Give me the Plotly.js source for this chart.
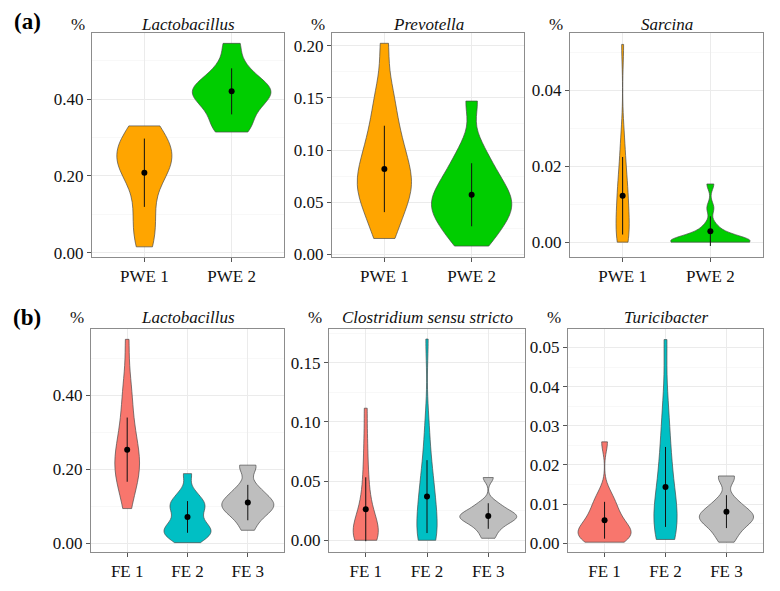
<!DOCTYPE html>
<html>
<head>
<meta charset="utf-8">
<script src="https://cdn.plot.ly/plotly-3.0.1.min.js"></script>
<style>
html,body{margin:0;padding:0;background:#fff}
#chart{width:780px;height:591px}
</style>
</head>
<body>
<div id="chart"></div>
<script>
// ---------- DATA (values read/estimated from the reference) ----------
const pweCats = ['PWE 1', 'PWE 2'];
const feCats = ['FE 1', 'FE 2', 'FE 3'];

const titles = ['Lactobacillus', 'Prevotella', 'Sarcina', 'Lactobacillus', 'Clostridium sensu stricto', 'Turicibacter'];

// (a) samples
const lactoPWE1 = [0.015, 0.05, 0.09, 0.13, 0.19, 0.21, 0.22, 0.235, 0.25, 0.26, 0.275, 0.29, 0.31, 0.33];
const lactoPWE2 = [0.314, 0.33, 0.36, 0.38, 0.40, 0.41, 0.42, 0.43, 0.44, 0.46, 0.49, 0.545];
const prevoPWE1 = [0.015, 0.025, 0.038, 0.048, 0.055, 0.06, 0.065, 0.07, 0.076, 0.083, 0.09, 0.098, 0.107, 0.117, 0.13, 0.145, 0.162, 0.2025];
const prevoPWE2 = [0.0077, 0.016, 0.024, 0.031, 0.037, 0.042, 0.046, 0.05, 0.055, 0.06, 0.066, 0.073, 0.081, 0.09, 0.105, 0.147];
const sarcPWE1 = [0, 0, 0.001, 0.002, 0.004, 0.006, 0.008, 0.01, 0.012, 0.014, 0.016, 0.019, 0.023, 0.028, 0.052];
const sarcPWE2 = [0, 0, 0, 0, 0, 0, 0, 0, 0, 0.0005, 0.001, 0.002, 0.003, 0.0045, 0.009, 0.0153];

// (b) samples
const lactoFE1 = [0.0933, 0.14, 0.165, 0.18, 0.195, 0.205, 0.22, 0.235, 0.25, 0.27, 0.295, 0.32, 0.36, 0.40, 0.44, 0.552];
const lactoFE2 = [0.001, 0.012, 0.02, 0.027, 0.033, 0.038, 0.045, 0.055, 0.068, 0.085, 0.095, 0.103, 0.11, 0.122, 0.14, 0.188];
const lactoFE3 = [0.0345, 0.06, 0.075, 0.085, 0.093, 0.1, 0.105, 0.11, 0.118, 0.128, 0.14, 0.155, 0.205, 0.211];
const clostFE1 = [0, 0, 0.001, 0.002, 0.004, 0.006, 0.008, 0.011, 0.014, 0.018, 0.023, 0.03, 0.038, 0.05, 0.065, 0.085, 0.1116];
const clostFE2 = [0, 0, 0.001, 0.002, 0.006, 0.01, 0.015, 0.024, 0.03, 0.035, 0.04, 0.047, 0.055, 0.065, 0.08, 0.1, 0.17];
const clostFE3 = [0.0017, 0.008, 0.012, 0.015, 0.017, 0.019, 0.02, 0.021, 0.023, 0.025, 0.028, 0.032, 0.053];
const turiFE1 = [0.0003, 0.0008, 0.0012, 0.0016, 0.002, 0.0025, 0.003, 0.0035, 0.0042, 0.005, 0.006, 0.007, 0.0085, 0.0095, 0.011, 0.013, 0.0259];
const turiFE2 = [0.001, 0.002, 0.003, 0.004, 0.005, 0.006, 0.008, 0.01, 0.012, 0.015, 0.018, 0.021, 0.025, 0.03, 0.036, 0.052];
const turiFE3 = [0.0003, 0.002, 0.0035, 0.0045, 0.0055, 0.006, 0.0065, 0.007, 0.0075, 0.008, 0.009, 0.01, 0.0115, 0.0165, 0.0172];

const lactoPWEMean = [0.208, 0.420],  lactoPWESd = [0.089, 0.060];
const prevoPWEMean = [0.0818, 0.057], prevoPWESd = [0.0415, 0.0303];
const sarcPWEMean  = [0.0122, 0.0029], sarcPWESd = [0.0102, 0.0039];
const lactoFEMean  = [0.253, 0.0706, 0.1096], lactoFESd = [0.087, 0.043, 0.048];
const clostFEMean  = [0.0262, 0.0369, 0.0205], clostFESd = [0.027, 0.0308, 0.0108];
const turiFEMean   = [0.0059, 0.0144, 0.0081], turiFESd = [0.0047, 0.0102, 0.0042];

// ---------- STYLE / LAYOUT ----------
const W = 780, H = 591;
const FONT = 'Liberation Serif';
const TXT = '#111';
const pweColors = ['#FFA500', '#00CD00'];
const feColors = ['#F8766D', '#00BFC4', '#BEBEBE'];

// bws: null -> R's bw.nrd0 of the samples; number -> fixed kernel bandwidth
const panels = [
  {cats: pweCats, groups: [lactoPWE1, lactoPWE2], mean: lactoPWEMean, sd: lactoPWESd, colors: pweColors,
   box: [92, 284, 33, 257], yr: [-0.0115, 0.572], dt: 0.2, widths: [0.63, 0.90], bws: [null, null]},
  {cats: pweCats, groups: [prevoPWE1, prevoPWE2], mean: prevoPWEMean, sd: prevoPWESd, colors: pweColors,
   box: [332, 524, 33, 257], yr: [-0.0028, 0.2124], dt: 0.05, widths: [0.62, 0.92], bws: [0.02, null]},
  {cats: pweCats, groups: [sarcPWE1, sarcPWE2], mean: sarcPWEMean, sd: sarcPWESd, colors: pweColors,
   box: [570, 763, 33, 257], yr: [-0.0039, 0.055], dt: 0.02, widths: [0.15, 0.90], bws: [0.005, 0.0015]},
  {cats: feCats, groups: [lactoFE1, lactoFE2, lactoFE3], mean: lactoFEMean, sd: lactoFESd, colors: feColors,
   box: [91, 284, 329, 552], yr: [-0.0244, 0.580], dt: 0.2, widths: [0.41, 0.78, 0.86], bws: [null, 0.019, null]},
  {cats: feCats, groups: [clostFE1, clostFE2, clostFE3], mean: clostFEMean, sd: clostFESd, colors: feColors,
   box: [329, 525, 329, 552], yr: [-0.0099, 0.1785], dt: 0.05, widths: [0.41, 0.33, 0.93], bws: [null, null, null]},
  {cats: feCats, groups: [turiFE1, turiFE2, turiFE3], mean: turiFEMean, sd: turiFESd, colors: feColors,
   box: [568, 763, 329, 552], yr: [-0.0022, 0.0547], dt: 0.01, widths: [0.87, 0.38, 0.89], bws: [null, null, null]}
];

// R's bw.nrd0 (what ggplot's geom_violin uses)
function nrd0(a) {
  const s = [...a].sort((p, q) => p - q), n = s.length;
  const m = s.reduce((p, q) => p + q, 0) / n;
  const sd = Math.sqrt(s.reduce((p, q) => p + (q - m) * (q - m), 0) / (n - 1));
  const qt = p => { const h = (n - 1) * p, lo = Math.floor(h); return lo + 1 < n ? s[lo] + (h - lo) * (s[lo + 1] - s[lo]) : s[lo]; };
  let lo = Math.min(sd, (qt(0.75) - qt(0.25)) / 1.34);
  if (!(lo > 0)) lo = sd || 1;
  return 0.9 * lo * Math.pow(n, -0.2);
}

const traces = [];
const layout = {
  width: W, height: H, margin: {l: 0, r: 0, t: 0, b: 0},
  paper_bgcolor: '#fff', plot_bgcolor: '#fff', showlegend: false,
  font: {family: FONT, size: 17, color: TXT},
  violinmode: 'overlay',
  annotations: []
};

panels.forEach((p, i) => {
  const k = i + 1;
  const xa = 'x' + (k === 1 ? '' : k), ya = 'y' + (k === 1 ? '' : k);
  const xk = 'xaxis' + (k === 1 ? '' : k), yk = 'yaxis' + (k === 1 ? '' : k);
  const [x0, x1, y0, y1] = p.box;
  p.groups.forEach((g, j) => {
    traces.push({
      type: 'violin', xaxis: xa, yaxis: ya,
      x: g.map(() => p.cats[j]), y: g,
      spanmode: 'hard', scalemode: 'width', width: p.widths[j],
      bandwidth: p.bws[j] || nrd0(g),
      fillcolor: p.colors[j], line: {color: 'rgba(70,70,70,0.85)', width: 0.8},
      points: false, box: {visible: false}, meanline: {visible: false},
      opacity: 1, hoverinfo: 'skip'
    });
  });
  traces.push({
    type: 'scatter', mode: 'markers', xaxis: xa, yaxis: ya,
    x: p.cats, y: p.mean,
    marker: {color: '#000', size: 6},
    error_y: {type: 'data', array: p.sd, visible: true, thickness: 1, width: 0, color: '#111'},
    hoverinfo: 'skip', cliponaxis: false
  });
  layout[xk] = {
    domain: [x0 / W, x1 / W], anchor: ya, type: 'category',
    range: [-0.6, p.cats.length - 0.4],
    showgrid: true, gridcolor: '#EBEBEB', gridwidth: 1,
    showline: true, mirror: true, linecolor: '#8c8c8c', linewidth: 1,
    ticks: 'outside', ticklen: 4, tickcolor: '#555', tickwidth: 1,
    tickfont: {family: FONT, size: 17, color: TXT},
    zeroline: false, fixedrange: true
  };
  layout[yk] = {
    domain: [1 - y1 / H, 1 - y0 / H], anchor: xa,
    range: p.yr, tick0: 0, dtick: p.dt, tickformat: '.2f',
    showgrid: true, gridcolor: '#EBEBEB', gridwidth: 1,
    minor: {dtick: p.dt / 2, tick0: 0, showgrid: true, gridcolor: '#F3F3F3', gridwidth: 0.6, ticks: ''},
    showline: true, mirror: true, linecolor: '#8c8c8c', linewidth: 1,
    ticks: 'outside', ticklen: 4, tickcolor: '#555', tickwidth: 1,
    tickfont: {family: FONT, size: 17, color: TXT},
    zeroline: false, fixedrange: true
  };
  const tY = i < 3 ? 25 : 318;
  layout.annotations.push({
    xref: 'paper', yref: 'paper', x: (x0 + x1) / 2 / W, y: 1 - tY / H,
    xanchor: 'center', yanchor: 'middle', showarrow: false,
    text: '<i>' + titles[i] + '</i>', font: {family: FONT, size: 17, color: TXT}
  });
  layout.annotations.push({
    xref: 'paper', yref: 'paper', x: (x0 - 14) / W, y: 1 - tY / H,
    xanchor: 'center', yanchor: 'middle', showarrow: false,
    text: '%', font: {family: FONT, size: 17, color: TXT}
  });
});

layout.annotations.push({xref: 'paper', yref: 'paper', x: 27 / W, y: 1 - 22 / H, xanchor: 'center', yanchor: 'middle',
  showarrow: false, text: '<b>(a)</b>', font: {family: FONT, size: 23, color: '#000'}});
layout.annotations.push({xref: 'paper', yref: 'paper', x: 27 / W, y: 1 - 318 / H, xanchor: 'center', yanchor: 'middle',
  showarrow: false, text: '<b>(b)</b>', font: {family: FONT, size: 23, color: '#000'}});

Plotly.newPlot('chart', traces, layout, {staticPlot: true, displayModeBar: false});
</script>
</body>
</html>
